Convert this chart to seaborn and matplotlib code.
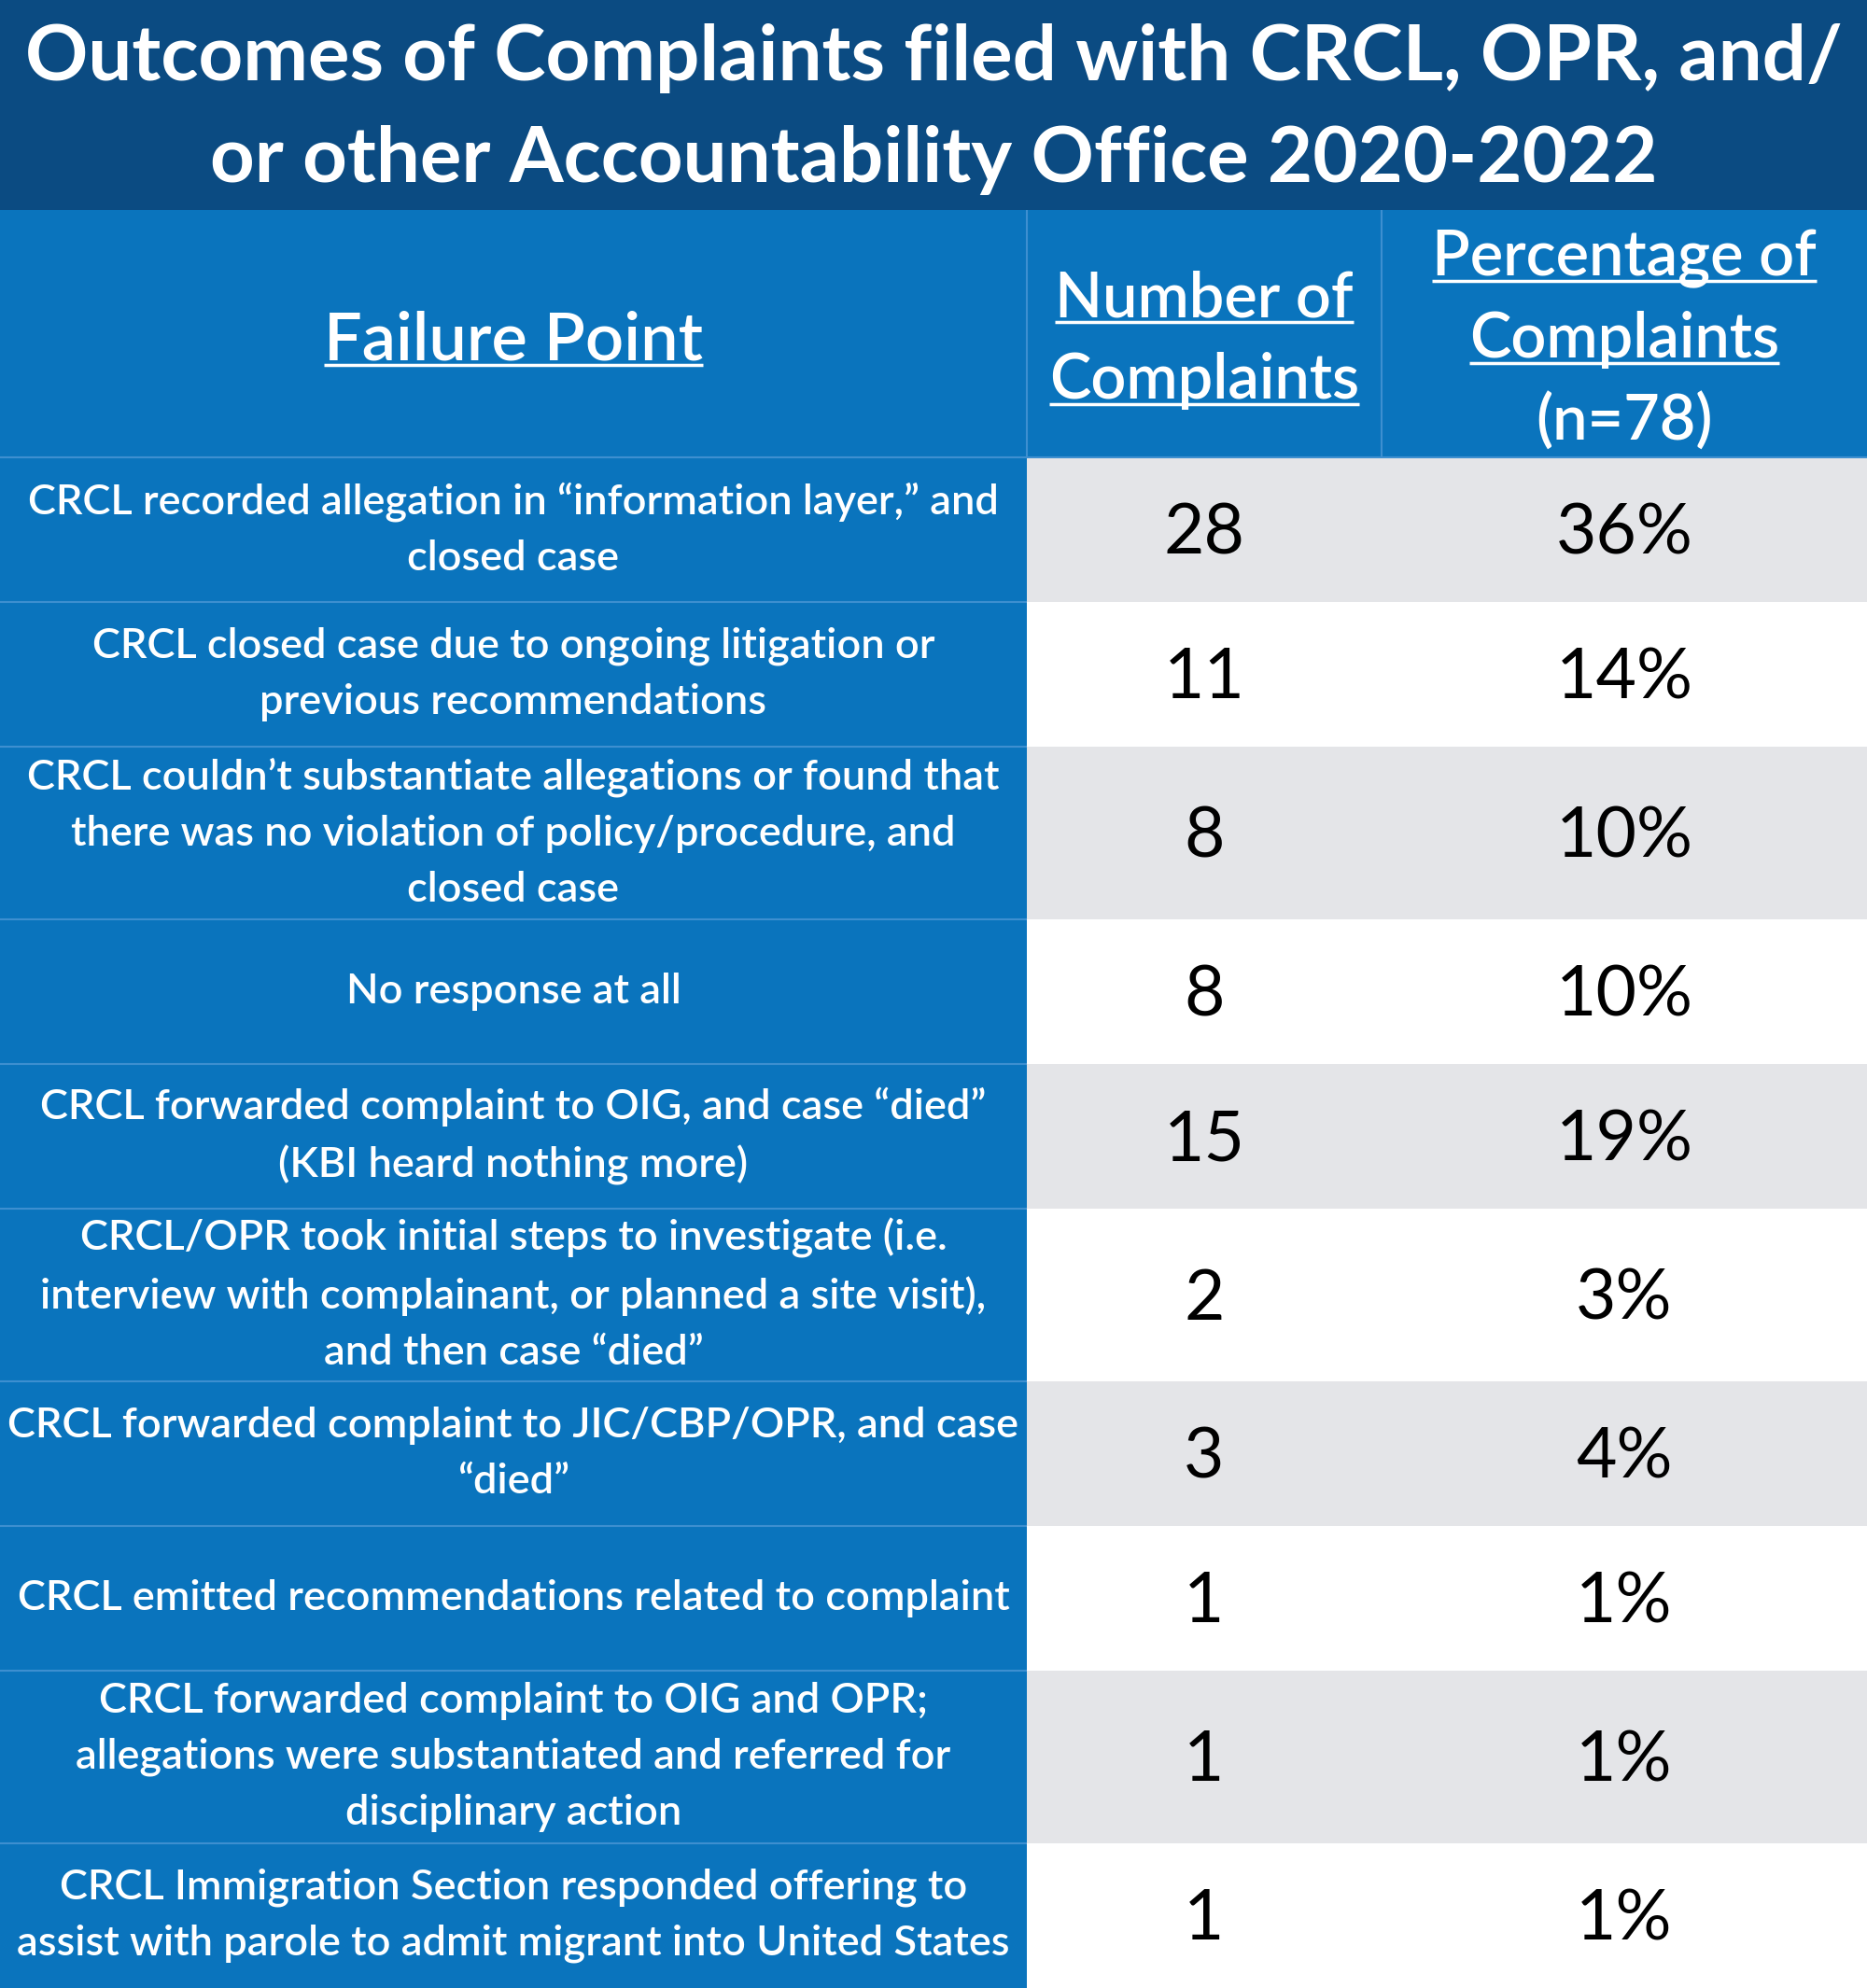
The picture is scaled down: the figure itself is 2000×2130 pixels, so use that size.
import numpy as np
import matplotlib
matplotlib.use("Agg")
import matplotlib.pyplot as plt
from matplotlib.colors import ListedColormap
import seaborn as sns

# -----------------------------
# Data
# -----------------------------
title = "Outcomes of Complaints filed with CRCL, OPR, and/\nor other Accountability Office 2020-2022"

headers = [
    ["Failure Point"],
    ["Number of", "Complaints"],
    ["Percentage of", "Complaints", "(n=78)"],
]

failure_points = [
    "CRCL recorded allegation in \u201cinformation layer,\u201d and\nclosed case",
    "CRCL closed case due to ongoing litigation or\nprevious recommendations",
    "CRCL couldn\u2019t substantiate allegations or found that\nthere was no violation of policy/procedure, and\nclosed case",
    "No response at all",
    "CRCL forwarded complaint to OIG, and case \u201cdied\u201d\n(KBI heard nothing more)",
    "CRCL/OPR took initial steps to investigate (i.e.\ninterview with complainant, or planned a site visit),\nand then case \u201cdied\u201d",
    "CRCL forwarded complaint to JIC/CBP/OPR, and case\n\u201cdied\u201d",
    "CRCL emitted recommendations related to complaint",
    "CRCL forwarded complaint to OIG and OPR;\nallegations were substantiated and referred for\ndisciplinary action",
    "CRCL Immigration Section responded offering to\nassist with parole to admit migrant into United States",
]
counts = [28, 11, 8, 8, 15, 2, 3, 1, 1, 1]
percents = [36, 14, 10, 10, 19, 3, 4, 1, 1, 1]

# -----------------------------
# Layout (units of 5 px)
# -----------------------------
NAVY = "#0b4b82"
BLUE = "#0a74bd"
GREY = "#e4e5e8"
LINE = "#3d8fd0"

col_w = [220, 76, 104]
header_h = 53
row_h = [37 if s.count("\n") == 2 else 31 for s in failure_points]

# cell codes: 0 blue, 1 grey, 2 white
codes = [[0, 0, 0]]
for i in range(len(counts)):
    codes.append([0] + ([1, 1] if i % 2 == 0 else [2, 2]))
codes = np.array(codes)
heights = [header_h] + row_h
grid = np.repeat(np.repeat(codes, heights, axis=0), col_w, axis=1)

y_edges = np.concatenate([[0], np.cumsum(heights)])
x_edges = np.concatenate([[0], np.cumsum(col_w)])
x_mid = (x_edges[:-1] + x_edges[1:]) / 2
total_h = y_edges[-1]

sns.set_theme(style="white")
plt.rcParams["font.family"] = ["Lato", "DejaVu Sans"]

fig = plt.figure(figsize=(20, 21.3), dpi=100)
fig.set_facecolor(NAVY)
table_frac = total_h * 5 / 2130
ax = fig.add_axes([0, 0, 1, table_frac])

sns.heatmap(
    grid,
    cmap=ListedColormap([BLUE, GREY, "white"]),
    vmin=-0.5,
    vmax=2.5,
    cbar=False,
    xticklabels=False,
    yticklabels=False,
    rasterized=True,
    ax=ax,
)
ax.set_axis_off()

# separators
ax.hlines(y_edges[1:-1], 0, x_edges[1], color=LINE, lw=1.5)
ax.hlines(y_edges[1], x_edges[1], x_edges[-1], color=LINE, lw=1.5)
ax.vlines(x_edges[1:3], 0, y_edges[1], color=LINE, lw=1.5)

# title
fig.text(0.5, 1 - 117 / 2130, title, ha="center", va="center", color="white",
         fontsize=60, fontweight="bold", linespacing=1.55)

# header texts with underline
fig.canvas.draw()
renderer = fig.canvas.get_renderer()
header_line = 17.6
for c, lines in enumerate(headers):
    n = len(lines)
    size = 52 if c == 0 else 48
    y0 = y_edges[1] / 2 - (n - 1) * header_line / 2
    for k, line in enumerate(lines):
        yb = y0 + k * header_line + size * 0.108
        t = ax.text(x_mid[c], yb, line, ha="center", va="baseline",
                    color="white", fontsize=size, fontweight="semibold")
        if not line.startswith("("):
            bb = t.get_window_extent(renderer).transformed(ax.transData.inverted())
            ax.plot([bb.x0, bb.x1], [yb + 1.1, yb + 1.1], color="white", lw=2.5,
                    solid_capstyle="butt")

# body
for i in range(len(counts)):
    yc = (y_edges[i + 1] + y_edges[i + 2]) / 2
    ax.text(x_mid[0], yc, failure_points[i], ha="center", va="center",
            color="white", fontsize=32.5, fontweight="semibold", linespacing=1.57)
    ax.text(x_mid[1], yc + 5.2, f"{counts[i]}", ha="center", va="baseline",
            color="black", fontsize=54, fontweight="normal")
    ax.text(x_mid[2], yc + 5.2, f"{percents[i]}%", ha="center", va="baseline",
            color="black", fontsize=54, fontweight="normal")

fig.savefig("out.png", dpi=100, facecolor=fig.get_facecolor())
